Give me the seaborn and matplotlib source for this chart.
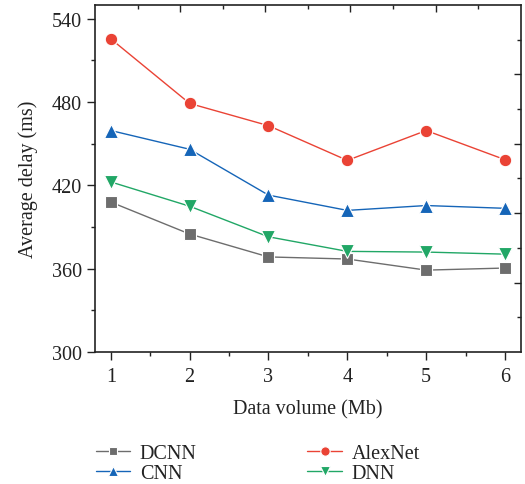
import matplotlib
matplotlib.use("Agg")
import matplotlib.pyplot as plt
import seaborn as sns
import pandas as pd
import numpy as np
from matplotlib.ticker import MultipleLocator

x_vals = [1, 2, 3, 4, 5, 6]
dcnn = [408, 385, 368.5, 367, 359, 360.5]
alexnet = [525.5, 479, 463, 438, 459.5, 438.5]
cnn = [459.5, 446, 413, 402, 405.5, 403.5]
dnn = [422.5, 405, 383, 372.5, 372, 370.5]

series_names = ["DCNN", "AlexNet", "CNN", "DNN"]
series_vals = [dcnn, alexnet, cnn, dnn]
colors = {"DCNN": "#6d6d6d", "AlexNet": "#ea4335", "CNN": "#1565b8", "DNN": "#21a766"}
markers = {"DCNN": "s", "AlexNet": "o", "CNN": "^", "DNN": "v"}
msizes = {"DCNN": 8, "AlexNet": 9, "CNN": 9.5, "DNN": 9.5}

df = pd.DataFrame({
    "x": x_vals * len(series_names),
    "y": sum(series_vals, []),
    "model": np.repeat(series_names, len(x_vals)),
})

sns.set_style("ticks")
plt.rcParams["font.family"] = ["Liberation Serif", "DejaVu Serif"]

FS = 14.5
fig = plt.figure(figsize=(5.25, 4.85), dpi=100)
ax = fig.add_axes([0.181, 0.272, 0.811, 0.716])

handles = {}
for name in series_names:
    sub = df[df["model"] == name]
    sns.lineplot(data=sub, x="x", y="y", ax=ax, color=colors[name], linewidth=1.0,
                 marker=markers[name], markersize=msizes[name], markeredgecolor="white",
                 markeredgewidth=0.8, label=name, legend=False)
    handles[name] = ax.lines[-1]

ax.set_xlim(0.8, 6.2)
ax.set_ylim(300, 550)
ax.set_xticks(x_vals)
ax.set_yticks([300, 360, 420, 480, 540])
ax.xaxis.set_minor_locator(MultipleLocator(0.5))
ax.yaxis.set_minor_locator(MultipleLocator(30))
ax.tick_params(axis="both", which="major", direction="out", length=5.5, width=1.0,
               labelsize=FS, colors="#222222", labelcolor="#222222")
ax.tick_params(axis="y", which="major", pad=4)
ax.tick_params(axis="x", which="major", pad=5)
ax.tick_params(axis="both", which="minor", direction="out", length=3, width=1.0, colors="#222222")
ax.set_xlabel("Data volume (Mb)", fontsize=FS, color="#222222", labelpad=10)
ax.set_ylabel("Average delay (ms)", fontsize=FS, color="#222222", labelpad=10)
for s in ax.spines.values():
    s.set_visible(True)
    s.set_linewidth(1.2)
    s.set_color("#222222")

# mirror axes (top/right) with inward ticks on a 0..1 scale
axt = ax.twiny()
axt.set_xlim(0, 1)
axt.set_xticks([0.2, 0.4, 0.6, 0.8])
axt.set_xticks([0.1, 0.3, 0.5, 0.7, 0.9], minor=True)
axt.tick_params(axis="x", which="major", direction="in", length=5, width=1.0, labeltop=False, colors="#222222")
axt.tick_params(axis="x", which="minor", direction="in", length=3, width=1.0, colors="#222222")
axr = ax.twinx()
axr.set_ylim(0, 1)
axr.set_yticks([0.2, 0.4, 0.6, 0.8])
axr.set_yticks([0.1, 0.3, 0.5, 0.7, 0.9], minor=True)
axr.tick_params(axis="y", which="major", direction="in", length=5, width=1.0, labelright=False, colors="#222222")
axr.tick_params(axis="y", which="minor", direction="in", length=3, width=1.0, colors="#222222")
for a in (axt, axr):
    for s in a.spines.values():
        s.set_visible(False)

order = ["DCNN", "CNN", "AlexNet", "DNN"]
leg = fig.legend([handles[n] for n in order], order, ncol=2, loc="upper left",
                 bbox_to_anchor=(0.182, 0.083), frameon=False, fontsize=FS,
                 handlelength=1.7, handletextpad=0.5, columnspacing=5.5, labelspacing=0.05,
                 markerscale=0.75, borderpad=0, borderaxespad=0)
for t in leg.get_texts():
    t.set_color("#222222")

fig.savefig("out.png", dpi=100)
